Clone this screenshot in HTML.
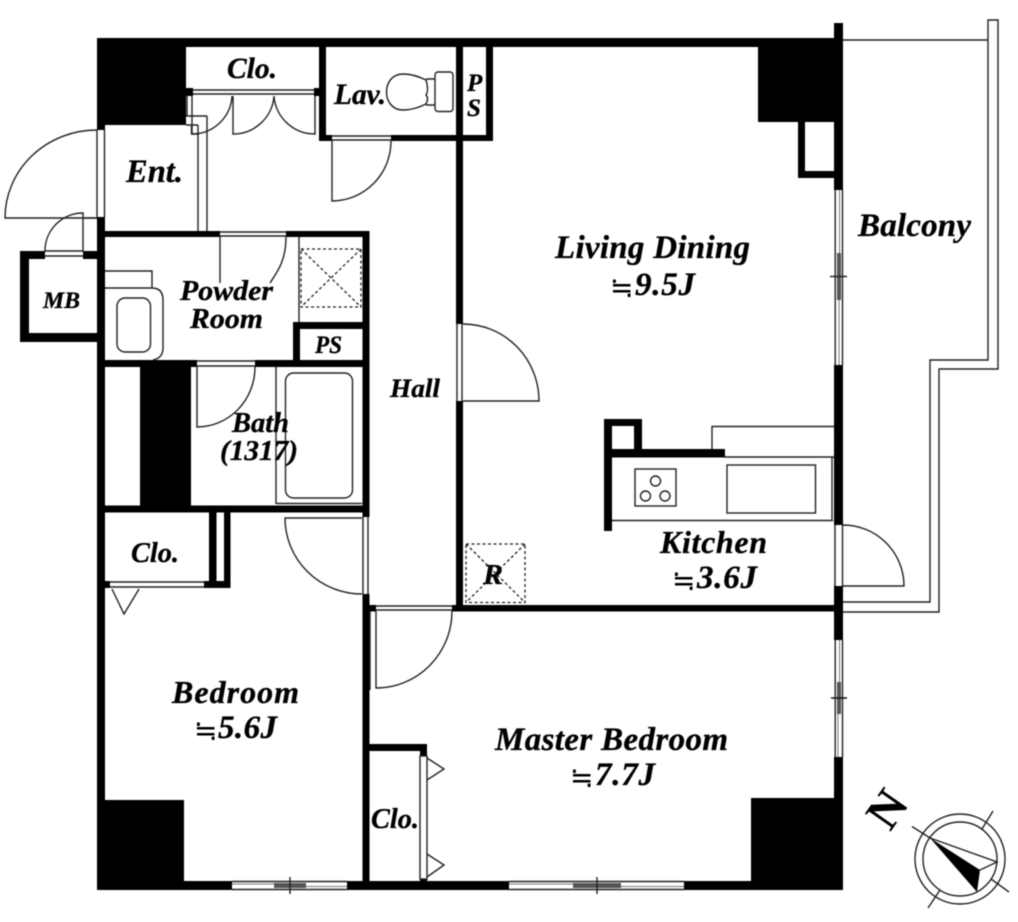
<!DOCTYPE html>
<html><head><meta charset="utf-8"><style>
html,body{margin:0;padding:0;background:#fff}
svg{display:block;filter:blur(.45px)}
text{font-family:"Liberation Serif","Noto Serif CJK SC",serif;font-weight:bold;font-style:italic;fill:#000;stroke:#000;stroke-width:.35}
text.a{font-weight:normal;font-style:normal;stroke:none}
.l{fill:none;stroke:#222;stroke-width:1.4}
.d{fill:none;stroke:#222;stroke-width:1.3;stroke-dasharray:3 2.5}
</style></head><body>
<svg width="1018" height="922" viewBox="0 0 1018 922" xmlns="http://www.w3.org/2000/svg">
<rect width="1018" height="922" fill="#fff"/>
<!-- thick walls -->
<g fill="#000">
<rect x="97" y="38" width="746" height="9"/>
<rect x="97" y="38" width="89" height="87"/>
<rect x="758" y="38" width="85" height="84"/>
<rect x="834" y="23" width="9" height="167"/>
<rect x="834" y="365" width="9" height="160"/>
<rect x="834" y="586" width="9" height="54"/>
<rect x="834" y="757" width="9" height="133"/>
<rect x="798" y="122" width="7" height="56"/><rect x="798" y="171" width="36" height="7"/>
<rect x="97" y="125" width="8" height="5"/>
<rect x="97" y="217" width="8" height="673"/>
<rect x="97" y="800" width="87" height="90"/>
<rect x="751" y="798" width="92" height="92"/>
<rect x="97" y="881" width="135" height="9"/><rect x="347" y="881" width="162" height="9"/><rect x="684" y="881" width="159" height="9"/>
<!-- MB -->
<rect x="20" y="251" width="25" height="8"/><rect x="83" y="251" width="14" height="8"/>
<rect x="20" y="251" width="9" height="91"/><rect x="20" y="333" width="77" height="9"/>
<!-- closet bar -->
<rect x="186" y="88" width="7" height="8"/><rect x="314" y="88" width="5" height="8"/>
<!-- lav -->
<rect x="319" y="47" width="7" height="94"/>
<rect x="319" y="135" width="13" height="6"/><rect x="391" y="135" width="102" height="6"/>
<rect x="456" y="47" width="7" height="277"/>
<rect x="486" y="47" width="7" height="94"/>
<rect x="456" y="401" width="7" height="210"/>
<rect x="369" y="605" width="7" height="6.5"/><rect x="452" y="605" width="391" height="6.5"/>
<!-- powder -->
<rect x="105" y="231" width="115" height="6"/><rect x="286" y="231" width="83" height="6"/>
<rect x="362.5" y="231" width="7" height="286"/>
<rect x="362.5" y="594" width="7" height="296"/>
<rect x="293" y="322" width="76" height="7"/><rect x="293" y="322" width="7" height="45"/>
<rect x="105" y="360" width="92" height="7"/><rect x="255" y="360" width="110" height="7"/>
<rect x="140" y="367" width="51" height="139"/>
<rect x="97" y="505.5" width="272" height="7"/>
<!-- bed closet -->
<rect x="209" y="512" width="7.5" height="76"/><rect x="224" y="512" width="6.5" height="76"/>
<rect x="204" y="581" width="26" height="7"/><rect x="105" y="581" width="5" height="7"/>
<!-- master closet -->
<rect x="369" y="744" width="58" height="7"/><rect x="420" y="751" width="7" height="5"/><rect x="420" y="879" width="7" height="3"/>
<!-- kitchen -->
<rect x="604" y="419" width="8" height="112"/><rect x="604" y="419" width="38" height="7"/><rect x="634" y="419" width="8" height="35"/>
<rect x="604" y="449" width="121" height="8.5"/>
</g>
<!-- entry door -->
<g class="l">
<path d="M97 130V217M104.500 130V217"/>
<path d="M97 130A92 88 0 0 0 5 218H97"/>
<path d="M83 251V213A38 38 0 0 0 45 251M83 218H97M83 256H45M83 251H45"/>
<!-- entry partition -->
<path d="M198 125V231M207 116V231M186 116H207M186 125H198M191.500 125V134H199"/>
<!-- closet fold -->
<path d="M193 90H314M193 94H314M187 96V116M192 96V134"/>
<path d="M192 134A40 40 0 0 0 232 96M233 96V134A41 41 0 0 0 274 96A41 41 0 0 0 315 134V96"/>
<!-- Lav door -->
<path d="M332 136H391M332 140H391M332 141V201A59 60 0 0 0 391 141"/>
<!-- toilet -->
<rect x="435" y="72" width="18" height="39.500" rx="3"/>
<path d="M426 79H435M426 105H435M426 80C416 75 408 74 403 74C381 74 381 110 403 110C411 110 418 108 426 104Q429 98 426 95Q429 90 426 80Z"/>
<!-- hall door -->
<path d="M457 324V401M462 324V401M463 324A76 77 0 0 1 539 401H463"/>
<!-- powder door -->
<path d="M220 232H286M220 236H286M220 237V283M286 237C286 260 278 271 270 283"/>
<!-- sink -->
<path d="M105 271H152V288H105M152 288Q163 288 163 300V348Q163 358 153 360"/>
<rect x="117" y="298" width="33.500" height="54" rx="8"/>
<path d="M299 237V322"/>
<!-- bath door -->
<path d="M197 361H255M197 366H255M197 367V427A58 60 0 0 0 255 367"/>
<path d="M276 367V504M276 503.500H362"/>
<rect x="285.500" y="373" width="67" height="125" rx="8"/>
<!-- bed door -->
<path d="M363 517V594M368 517V594M362 518H285A77 76 0 0 0 362 594"/>
<!-- bed clo -->
<path d="M110 582H204M110 587H204M112 589L124 614L139 589"/>
<!-- master door -->
<path d="M376 606H452M376 610H452M370 611V690M376 611V688A76 77 0 0 0 452 611"/>
<!-- master clo -->
<rect x="420" y="756" width="7" height="123"/>
<path d="M427 758L444 769L427 780M427 854L444 865L427 877"/>
<!-- kitchen -->
<path d="M712 449V426.500H834M725 457H834M612 520.500H833M832 457V520"/>
<rect x="635" y="469" width="41" height="37"/>
<circle cx="655.500" cy="481" r="5"/><circle cx="645.500" cy="496" r="5"/><circle cx="665" cy="496" r="5"/>
<rect x="727" y="465" width="88.500" height="48"/>
<!-- balcony door -->
<path d="M835 525V586M842.500 525V586M843 525A61 61 0 0 1 904 586H843"/>
<!-- balcony rail -->
<path d="M843 40H988V20H998V369H939V612H843M988 40V360H930V602H843"/>
</g>
<!-- windows -->
<g fill="#555">
<rect x="834.500" y="190" width="8.500" height="175" fill="#fff"/>
<path class="l" d="M835.200 190V365M842.500 190V365"/>
<rect x="837" y="253" width="4" height="47"/>
<path class="l" d="M839.500 190V253M839 300V365" style="stroke:#777;stroke-width:1"/>
<path d="M830 276.500H847" stroke="#222" stroke-width="1.500"/>
<rect x="834.500" y="640" width="8.500" height="117" fill="#fff"/>
<path class="l" d="M835.200 640V757M842.500 640V757"/>
<rect x="837" y="682" width="4" height="32"/>
<path class="l" d="M839.500 640V682M838 714V757" style="stroke:#777;stroke-width:1"/>
<path d="M831 698H847" stroke="#111" stroke-width="1.500"/>
<rect x="232" y="881" width="115" height="9" fill="#fff"/>
<path class="l" d="M232 881.500H347M232 889.500H347"/>
<path class="l" d="M232 884H275M306 886.500H347" style="stroke:#777;stroke-width:1"/>
<rect x="274" y="883" width="32" height="5"/>
<path d="M290 877V894" stroke="#222" stroke-width="1.400"/>
<rect x="509" y="881" width="175" height="9" fill="#fff"/>
<path class="l" d="M509 881.500H684M509 889.500H684"/>
<path class="l" d="M509 884H573M621 886.500H684" style="stroke:#777;stroke-width:1"/>
<rect x="573" y="883" width="48" height="5"/>
<path d="M597 877V894" stroke="#222" stroke-width="1.400"/>
</g>
<!-- shafts -->
<rect class="d" x="301" y="249" width="60" height="58"/>
<path class="d" d="M301 249L361 307M361 249L301 307"/>
<rect class="d" x="466" y="544" width="59" height="58.500"/>
<path class="d" d="M466 544L525 602.500M525 544L466 602.500"/>
<!-- compass -->
<g class="l">
<circle cx="960" cy="859" r="45"/><circle cx="960" cy="859" r="37"/>
<path d="M912 826.500L930 838M993 811L982 829M1009 892L991 879M928 908L940 890"/>
<path d="M930 838L997 862L980 870"/>
</g>
<path d="M930 838L977 892L980 870Z" fill="#000"/>
<text class="n" x="0" y="16" font-size="48" text-anchor="middle" transform="translate(887 809) rotate(-55)" style="font-style:normal;stroke:none">N</text>
<!-- labels -->
<text x="227" y="78" font-size="30" textLength="50" lengthAdjust="spacingAndGlyphs">Clo.</text>
<text x="334" y="104" font-size="30" textLength="52" lengthAdjust="spacingAndGlyphs">Lav.</text>
<text x="467" y="91" font-size="25">P</text>
<text x="467" y="116" font-size="25">S</text>
<text x="126" y="182" font-size="33" textLength="57" lengthAdjust="spacingAndGlyphs">Ent.</text>
<text x="43" y="308" font-size="23" textLength="37" lengthAdjust="spacingAndGlyphs">MB</text>
<text x="180" y="300" font-size="29" textLength="93" lengthAdjust="spacingAndGlyphs">Powder</text>
<text x="190" y="328" font-size="29" textLength="73" lengthAdjust="spacingAndGlyphs">Room</text>
<text x="315" y="353" font-size="25" textLength="27" lengthAdjust="spacingAndGlyphs">PS</text>
<text x="390" y="397" font-size="26" textLength="50" lengthAdjust="spacingAndGlyphs">Hall</text>
<text x="232" y="432" font-size="29" textLength="57" lengthAdjust="spacingAndGlyphs">Bath</text>
<text x="220" y="460" font-size="29" textLength="78" lengthAdjust="spacingAndGlyphs">(1317)</text>
<text x="131" y="562" font-size="29" textLength="48" lengthAdjust="spacingAndGlyphs">Clo.</text>
<text x="483" y="584" font-size="28" textLength="20" lengthAdjust="spacingAndGlyphs">R</text>
<text x="555" y="258" font-size="33" textLength="195" lengthAdjust="spacing">Living Dining</text>
<text class="a" x="610" y="297" font-size="28">≒</text>
<text x="635" y="295" font-size="33" textLength="60" lengthAdjust="spacing">9.5J</text>
<text x="858" y="236" font-size="33" textLength="113" lengthAdjust="spacing">Balcony</text>
<text x="660" y="553" font-size="32" textLength="107" lengthAdjust="spacing">Kitchen</text>
<text class="a" x="672" y="590" font-size="28">≒</text>
<text x="697" y="588" font-size="33" textLength="60" lengthAdjust="spacing">3.6J</text>
<text x="172" y="703" font-size="32" textLength="127" lengthAdjust="spacing">Bedroom</text>
<text class="a" x="194" y="740" font-size="28">≒</text>
<text x="218" y="738" font-size="33" textLength="59" lengthAdjust="spacing">5.6J</text>
<text x="495" y="750" font-size="33" textLength="233" lengthAdjust="spacing">Master Bedroom</text>
<text class="a" x="570" y="787" font-size="28">≒</text>
<text x="595" y="785" font-size="33" textLength="60" lengthAdjust="spacing">7.7J</text>
<text x="371" y="828" font-size="29" textLength="48" lengthAdjust="spacingAndGlyphs">Clo.</text>
</svg>
</body></html>
